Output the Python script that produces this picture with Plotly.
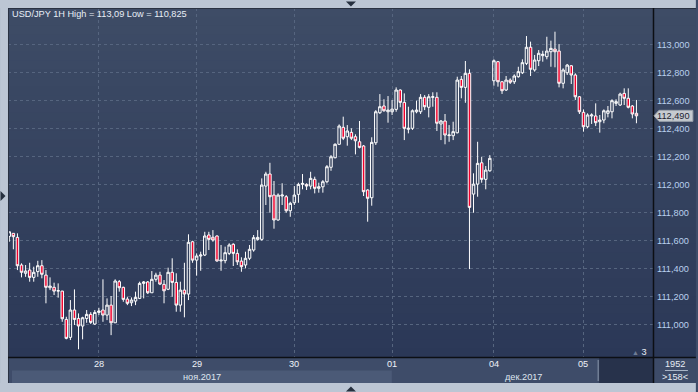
import plotly.graph_objects as go

# ---------------- data (USD/JPY, 1H candles) ----------------
open_ = [111.630,111.652,111.623,111.426,111.367,111.390,111.338,111.379,111.421,111.354,
         111.264,111.267,111.240,111.240,111.038,110.910,111.105,111.045,110.991,111.045,
         111.074,111.005,111.088,111.105,111.069,111.140,111.014,111.307,111.267,111.183,
         111.157,111.169,111.188,111.295,111.305,111.228,111.324,111.354,111.288,111.253,
         111.374,111.302,111.140,111.247,111.219,111.592,111.461,111.490,111.497,111.640,
         111.624,111.633,111.455,111.457,111.509,111.574,111.509,111.454,111.426,111.474,
         111.533,111.609,111.609,111.989,112.075,111.925,111.747,111.918,111.913,111.813,
         111.870,111.930,112.001,112.001,111.989,112.037,111.973,111.984,112.020,112.123,
         112.191,112.287,112.408,112.341,112.372,112.341,112.305,112.275,111.961,111.906,
         112.298,112.512,112.560,112.519,112.519,112.536,112.674,112.586,112.394,112.401,
         112.519,112.519,112.622,112.551,112.622,112.622,112.432,112.453,112.349,112.348,
         112.369,112.750,112.693,112.793,111.932,112.003,112.155,112.037,112.098,112.740,
         112.876,112.733,112.674,112.745,112.733,112.769,112.797,112.864,112.979,112.817,
         112.883,112.919,112.912,112.947,112.966,112.952,112.722,112.797,112.847,112.781,
         112.626,112.515,112.412,112.489,112.489,112.448,112.460,112.508,112.519,112.579,
         112.567,112.650,112.615,112.560,112.508]
high = [111.663,111.652,111.652,111.438,111.426,111.442,111.414,111.456,111.461,111.390,
        111.338,111.300,111.295,111.242,111.057,111.176,111.252,111.081,111.057,111.105,
        111.090,111.105,111.121,111.324,111.188,111.205,111.324,111.319,111.271,111.200,
        111.195,111.236,111.307,111.312,111.312,111.383,111.371,111.378,111.319,111.407,
        111.474,111.367,111.307,111.442,111.645,111.599,111.509,111.521,111.663,111.663,
        111.675,111.638,111.569,111.557,111.581,111.581,111.538,111.481,111.521,111.569,
        111.640,111.675,112.044,112.091,112.155,112.025,111.937,112.009,111.925,111.877,
        111.989,112.013,112.075,112.009,112.091,112.056,112.013,112.032,112.139,112.210,
        112.294,112.429,112.484,112.424,112.401,112.358,112.453,112.282,111.966,112.337,
        112.531,112.645,112.608,112.631,112.603,112.693,112.679,112.650,112.555,112.536,
        112.598,112.645,112.638,112.645,112.658,112.658,112.460,112.503,112.424,112.448,
        112.769,112.774,112.881,112.822,112.080,112.305,112.198,112.132,112.210,112.893,
        112.881,112.738,112.774,112.757,112.786,112.840,112.893,113.059,113.019,112.924,
        112.959,112.954,113.054,113.026,113.090,113.002,112.829,112.860,112.852,112.793,
        112.631,112.536,112.508,112.508,112.579,112.496,112.536,112.560,112.608,112.608,
        112.655,112.686,112.686,112.567,112.603]
low = [111.592,111.538,111.390,111.338,111.342,111.307,111.307,111.342,111.331,111.153,
       111.247,111.212,111.193,111.021,110.896,110.891,110.998,110.825,110.896,111.014,
       111.005,110.998,111.069,111.021,111.033,110.926,111.014,111.236,111.164,111.140,
       111.133,111.140,111.183,111.188,111.219,111.228,111.307,111.283,111.153,111.247,
       111.200,111.093,111.093,111.053,111.176,111.442,111.350,111.385,111.490,111.533,
       111.592,111.449,111.385,111.438,111.497,111.419,111.426,111.378,111.402,111.461,
       111.521,111.599,111.599,111.854,111.799,111.685,111.742,111.854,111.799,111.770,
       111.854,111.870,111.966,111.961,111.966,111.937,111.942,111.942,112.008,112.098,
       112.187,112.282,112.317,112.277,112.317,112.215,112.258,111.918,111.735,111.849,
       112.282,112.503,112.519,112.441,112.496,112.519,112.551,112.317,112.365,112.389,
       112.508,112.503,112.531,112.479,112.555,112.382,112.317,112.287,112.305,112.317,
       112.365,112.615,112.583,111.397,111.799,111.913,112.013,111.966,112.091,112.705,
       112.698,112.646,112.667,112.717,112.717,112.762,112.788,112.852,112.774,112.805,
       112.845,112.876,112.893,112.840,112.836,112.693,112.686,112.781,112.717,112.603,
       112.503,112.377,112.401,112.432,112.417,112.370,112.437,112.479,112.472,112.560,
       112.560,112.567,112.543,112.472,112.437]
close = [111.663,111.628,111.421,111.374,111.383,111.338,111.374,111.421,111.360,111.267,
         111.276,111.240,111.243,111.043,110.903,111.105,111.038,110.991,111.050,111.074,
         111.017,111.088,111.098,111.069,111.140,111.014,111.312,111.264,111.181,111.153,
         111.176,111.195,111.295,111.305,111.228,111.324,111.354,111.290,111.242,111.374,
         111.302,111.140,111.247,111.219,111.588,111.461,111.490,111.497,111.633,111.609,
         111.604,111.455,111.461,111.514,111.569,111.509,111.449,111.414,111.474,111.538,
         111.621,111.623,111.996,112.075,111.913,111.747,111.925,111.925,111.813,111.866,
         111.925,112.001,112.008,111.989,112.044,111.973,111.984,112.020,112.127,112.198,
         112.287,112.417,112.330,112.382,112.330,112.312,112.265,111.949,111.902,112.301,
         112.519,112.555,112.526,112.531,112.538,112.674,112.586,112.401,112.401,112.526,
         112.531,112.622,112.555,112.626,112.626,112.437,112.453,112.353,112.353,112.377,
         112.745,112.693,112.793,111.837,112.003,112.151,112.037,112.103,112.187,112.883,
         112.733,112.669,112.745,112.729,112.774,112.805,112.869,112.979,112.822,112.888,
         112.936,112.929,112.952,112.971,112.947,112.722,112.817,112.852,112.781,112.626,
         112.519,112.412,112.496,112.496,112.441,112.460,112.526,112.526,112.598,112.591,
         112.645,112.615,112.551,112.503,112.490]
bars = list(range(1, len(open_) + 1))

day_ticks = [23, 47, 71, 95, 120, 142]
day_labels = ["28", "29", "30", "01", "04", "05"]
month_labels = ["ноя.2017", "дек.2017"]
month_pos = [48.3, 127.2]
price_ticks = [111.0, 111.2, 111.4, 111.6, 111.8, 112.0, 112.2, 112.4, 112.6, 112.8, 113.0]
price_labels = [f"{v:.3f}".replace(".", ",") for v in price_ticks]

# ---------------- geometry helpers (pixel -> paper) ----------------
W, H = 698, 392
L, R, T, B = 8, 43, 8, 35
PW, PH = W - L - R, H - T - B


def px(x):
    return (x - L) / PW


def py(y):
    return (H - B - y) / PH


shapes = []
# vertical gradient background for plot + right axis area
top_c = (62, 76, 102)
bot_c = (43, 56, 87)
N = 40
for k in range(N):
    t = (k + 0.5) / N
    c = tuple(round(top_c[j] + (bot_c[j] - top_c[j]) * t) for j in range(3))
    shapes.append(dict(type="rect", xref="paper", yref="paper", layer="below",
                       x0=px(8), x1=px(698), y0=py(8 + 349 * k / N), y1=py(8 + 349 * (k + 1) / N + 0.6),
                       fillcolor=f"rgb{c}", line_width=0))

# x-axis band pieces
shapes.append(dict(type="rect", xref="paper", yref="paper", x0=px(8), x1=px(655), y0=py(357), y1=py(383),
                   fillcolor="#3e4c69", line_width=0))
shapes.append(dict(type="rect", xref="paper", yref="paper", x0=px(12), x1=px(393), y0=py(370.5), y1=py(383),
                   fillcolor="#4b5a77", line_width=0))
shapes.append(dict(type="rect", xref="paper", yref="paper", x0=px(601), x1=px(655), y0=py(358), y1=py(383),
                   fillcolor="#27324b", line_width=0))
shapes.append(dict(type="line", xref="paper", yref="paper", x0=px(600), x1=px(600), y0=py(360), y1=py(381),
                   line=dict(color="#8a96aa", width=1)))
shapes.append(dict(type="rect", xref="paper", yref="paper", x0=px(655), x1=px(698), y0=py(357), y1=py(383),
                   fillcolor="#3d4b68", line_width=0))
shapes.append(dict(type="line", xref="paper", yref="paper", x0=px(667), x1=px(690), y0=py(370.5), y1=py(370.5),
                   line=dict(color="#a8b4c6", width=1)))

# outer light frame
frame = "#bcc6d4"
shapes.append(dict(type="rect", xref="paper", yref="paper", x0=px(0), x1=px(698), y0=py(0), y1=py(8),
                   fillcolor=frame, line_width=0))
shapes.append(dict(type="rect", xref="paper", yref="paper", x0=px(0), x1=px(8), y0=py(0), y1=py(392),
                   fillcolor=frame, line_width=0))
shapes.append(dict(type="rect", xref="paper", yref="paper", x0=px(0), x1=px(698), y0=py(383), y1=py(392),
                   fillcolor=frame, line_width=0))
shapes.append(dict(type="line", xref="paper", yref="paper", x0=px(8), x1=px(698), y0=py(8.5), y1=py(8.5),
                   line=dict(color="#2a3242", width=1)))
shapes.append(dict(type="line", xref="paper", yref="paper", x0=px(8.5), x1=px(8.5), y0=py(8), y1=py(383),
                   line=dict(color="#2a3242", width=1)))

# black axis lines
shapes.append(dict(type="line", xref="paper", yref="paper", x0=px(655.5), x1=px(655.5), y0=py(8), y1=py(383),
                   line=dict(color="#0c0f14", width=1.5)))
shapes.append(dict(type="line", xref="paper", yref="paper", x0=px(8), x1=px(698), y0=py(357.5), y1=py(357.5),
                   line=dict(color="#0c0f14", width=1.5)))


# small frame triangles
def tri(points, color="#26303f"):
    d = "M " + " L ".join(f"{px(a)},{py(b)}" for a, b in points) + " Z"
    return dict(type="path", xref="paper", yref="paper", path=d, fillcolor=color, line_width=0)


shapes.append(tri([(347, 1.5), (357, 1.5), (352, 6.5)]))
shapes.append(tri([(347, 391.5), (357, 391.5), (352, 386.5)]))
shapes.append(tri([(0.5, 191), (0.5, 201), (5.5, 196)]))

# last price tag
last = close[-1]
hh = 5.5 / 140.2
tag = (f"M {px(656)},{last} L {px(661)},{last + hh} L {px(695)},{last + hh} "
       f"L {px(695)},{last - hh} L {px(661)},{last - hh} Z")
shapes.append(dict(type="path", xref="paper", yref="y", path=tag, fillcolor="#c6cad0",
                   line=dict(color="#9ca3ae", width=1)))

fig = go.Figure()
fig.add_trace(go.Candlestick(
    x=bars, open=open_, high=high, low=low, close=close,
    increasing=dict(line=dict(color="#ffffff", width=1), fillcolor="rgba(0,0,0,0)"),
    decreasing=dict(line=dict(color="#ffffff", width=1), fillcolor="#f0002c"),
    whiskerwidth=0, hoverinfo="skip", showlegend=False,
))

FONT = "Liberation Sans, Arial, sans-serif"
ann = []
ann.append(dict(xref="paper", yref="paper", x=px(10), y=py(14.5), xanchor="left", yanchor="middle",
                text=f"USD/JPY 1H High = {max(high):.2f} Low = {min(low):.3f}".replace(".", ","),
                showarrow=False, font=dict(color="#e8eef6", size=9.2, family=FONT)))
for xv, lab in zip(day_ticks, day_labels):
    ann.append(dict(xref="x", yref="paper", x=xv, y=py(364), xanchor="center", yanchor="middle",
                    text=lab, showarrow=False, font=dict(color="#eef2f8", size=9.2, family=FONT)))
for xv, lab in zip(month_pos, month_labels):
    ann.append(dict(xref="x", yref="paper", x=xv, y=py(376.5), xanchor="center", yanchor="middle",
                    text=lab, showarrow=False, font=dict(color="#dfe6ef", size=9.2, family=FONT)))
ann.append(dict(xref="paper", yref="y", x=px(676), y=last, xanchor="center", yanchor="middle",
                text=f"{last:.3f}".replace(".", ","), showarrow=False,
                font=dict(color="#1c2230", size=9.2, family=FONT)))
ann.append(dict(xref="paper", yref="paper", x=px(677), y=py(364), xanchor="center", yanchor="middle",
                text="1952", showarrow=False, font=dict(color="#e6ecf4", size=9.2, family=FONT)))
ann.append(dict(xref="paper", yref="paper", x=px(677), y=py(377), xanchor="center", yanchor="middle",
                text="&gt;158&lt;", showarrow=False, font=dict(color="#e6ecf4", size=9.2, family=FONT)))
ann.append(dict(xref="paper", yref="paper", x=px(651), y=py(351.5), xanchor="right", yanchor="middle",
                text="<span style='color:#6f7d95;font-size:7px'>▲</span> 3", showarrow=False,
                font=dict(color="#e6ecf4", size=9.2, family=FONT)))

grid_c = "#56657f"
fig.update_layout(
    width=W, height=H, margin=dict(l=L, r=R, t=T, b=B),
    paper_bgcolor="#3e4c69", plot_bgcolor="rgba(0,0,0,0)",
    shapes=shapes, annotations=ann, showlegend=False,
    boxgap=0.22, boxgroupgap=0.22,
    xaxis=dict(range=[0.682, 159.07], rangeslider=dict(visible=False), tickvals=day_ticks,
               showticklabels=False, showgrid=True, gridcolor=grid_c, griddash="3px,3px",
               gridwidth=1, zeroline=False, showline=False, ticks="", fixedrange=True),
    yaxis=dict(range=[110.770, 113.259], side="right", tickvals=price_ticks, ticktext=price_labels,
               showgrid=True, gridcolor=grid_c, griddash="3px,3px", gridwidth=1, zeroline=False,
               showline=False, ticks="", ticklabelstandoff=3,
               tickfont=dict(color="#b9d0ee", size=9.2, family=FONT), fixedrange=True),
    font=dict(family=FONT),
)

fig.write_html(
    "out.html",
    config={"displayModeBar": False, "staticPlot": True},
    post_script="document.body.style.margin='0';document.body.style.overflow='hidden';",
)
